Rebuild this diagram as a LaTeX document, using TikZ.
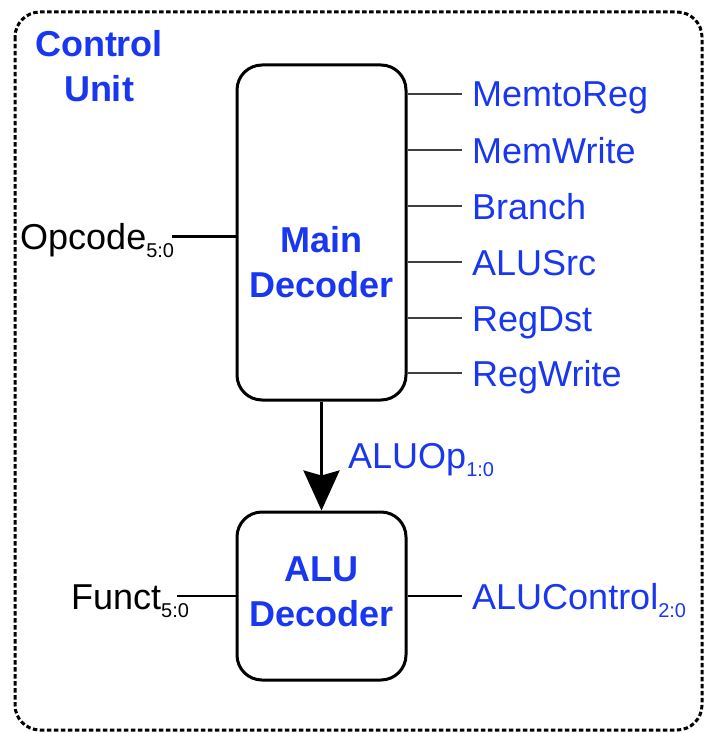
\documentclass[tikz,border=0pt]{standalone}
\usepackage{fontspec}
\setmainfont{Liberation Sans}
\usetikzlibrary{arrows.meta}
\definecolor{cublue}{RGB}{25,55,240}
\newcommand\mysub[1]{\raisebox{-0.24em}{\fontsize{20}{20}\selectfont #1}}
\begin{document}
\begin{tikzpicture}[x=1pt,y=-1pt,
  blk/.style={draw, line width=3pt, rounded corners=25pt, inner sep=0pt},
  lbl/.style={font=\fontsize{36}{42}\selectfont, inner sep=0pt, text height=26pt, text depth=0pt, anchor=west},
  bl/.style={lbl, text=cublue},
  ttl/.style={font=\fontsize{36}{45}\bfseries\selectfont, text=cublue, align=center, inner sep=0pt, anchor=north},
  sig/.style={line width=2pt, draw=black!75},
  wire/.style={line width=2pt, draw=black},
]
\useasboundingbox (0,0) rectangle (705,733);
\draw[line width=3pt, dash pattern=on 4.5pt off 2.5pt, rounded corners=25pt] (15,12) rectangle (702,730);
\node[ttl] (cu) at (99,30) {Control\\Unit};
% boxes
\node[blk, minimum width=169pt, minimum height=335pt] (main) at (321.5,232.5) {};
\node[ttl] (maint) at (321.5,226) {Main\\Decoder};
\node[blk, minimum width=169pt, minimum height=168pt] (alu) at (321.5,596) {};
\node[ttl] (alut) at (321.5,557) {ALU\\Decoder};
% arrow
\draw[line width=3pt, -{Stealth[length=40pt,width=36pt,inset=5pt]}] (main.south) -- (alu.north);
\node[bl] (aop) at (348,455) {ALUOp\mysub{1:0}};
% outputs
\foreach \n/\t/\y in {m1/MemtoReg/94, m2/MemWrite/150, m3/Branch/206, m4/ALUSrc/262, m5/RegDst/318, m6/RegWrite/373}{
  \node[bl] (\n) at (472,\y) {\t};
  \draw[sig] (main.east |- \n.west) -- ([xshift=-10pt]\n.west);
}
% inputs
\node[lbl] (op) at (20,236) {Opcode\mysub{5:0}};
\draw[line width=3pt] ([xshift=-2pt]op.east) -- (main.west |- op.east);
\node[lbl] (fn) at (71,596) {Funct\mysub{5:0}};
\draw[wire] ([xshift=-12pt]fn.east) -- (alu.west |- fn.east);
\node[bl] (ac) at (472,596) {ALUControl\mysub{2:0}};
\draw[wire] (alu.east |- ac.west) -- ([xshift=-10pt]ac.west);
\end{tikzpicture}
\end{document}
